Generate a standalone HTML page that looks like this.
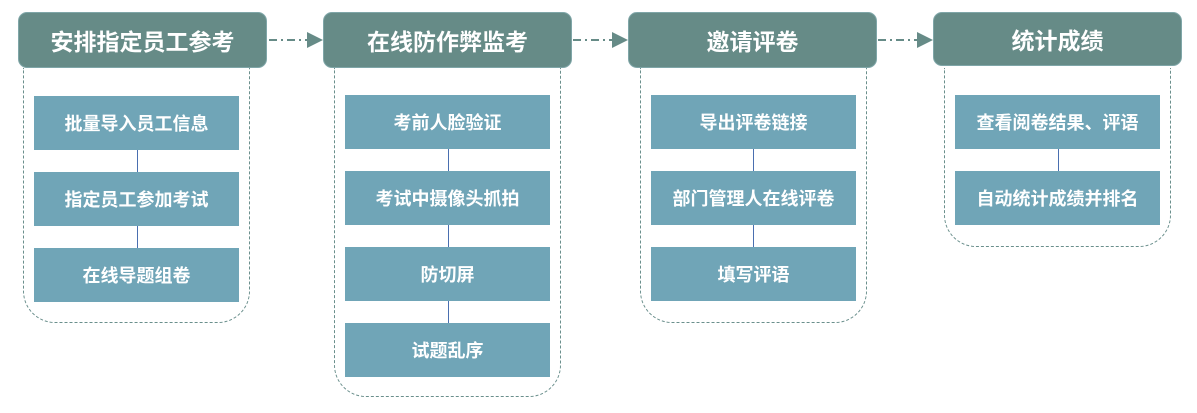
<!DOCTYPE html>
<html><head><meta charset="utf-8"><style>
body{margin:0;width:1197px;height:413px;background:#fff;position:relative;overflow:hidden;font-family:"Liberation Sans","Noto Sans CJK SC",sans-serif}
.h{position:absolute;top:12px;height:56px;width:249px;background:#668b87;border-radius:9px;color:#fff;font-size:23px;font-weight:bold;display:flex;align-items:center;justify-content:center;box-sizing:border-box;border:1px solid #7fa6a8}
.c{position:absolute;top:68px;width:227px;border:1.3px dashed #6a8f8c;border-top:none;border-radius:0 0 32px 32px;box-sizing:border-box}
.b{position:absolute;width:205px;height:54px;background:#70a5b7;color:#fff;font-size:18px;font-weight:bold;display:flex;align-items:center;justify-content:center}
.l{position:absolute;width:1px;background:#4a6fb0;height:22px}
</style></head><body>
<svg width="1197" height="413" style="position:absolute;left:0;top:0">
<defs><marker id="a" markerWidth="8" markerHeight="8" refX="7" refY="4" orient="auto"><path d="M0,0L8,4L0,8z" fill="#668b87"/></marker></defs>
<g stroke="#668b87" stroke-width="2" stroke-dasharray="8,4,2,4" marker-end="url(#a)">
<line x1="269" y1="40" x2="321" y2="40"/><line x1="573" y1="40" x2="626" y2="40"/><line x1="878" y1="40" x2="931" y2="40"/>
</g></svg>
<div class="c" style="left:23px;height:255px"></div>
<div class="c" style="left:334px;height:329px"></div>
<div class="c" style="left:640px;height:255px"></div>
<div class="c" style="left:944px;height:179px"></div>
<div class="h" style="left:18px">安排指定员工参考</div>
<div class="h" style="left:323px">在线防作弊监考</div>
<div class="h" style="left:628px">邀请评卷</div>
<div class="h" style="left:933px;height:54px">统计成绩</div>
<div class="b" style="left:34px;top:96px">批量导入员工信息</div>
<div class="l" style="left:137px;top:150px"></div>
<div class="b" style="left:34px;top:172px">指定员工参加考试</div>
<div class="l" style="left:137px;top:226px"></div>
<div class="b" style="left:34px;top:248px">在线导题组卷</div>
<div class="b" style="left:345px;top:95px">考前人脸验证</div>
<div class="l" style="left:448px;top:149px"></div>
<div class="b" style="left:345px;top:171px">考试中摄像头抓拍</div>
<div class="l" style="left:448px;top:225px"></div>
<div class="b" style="left:345px;top:247px">防切屏</div>
<div class="l" style="left:448px;top:301px"></div>
<div class="b" style="left:345px;top:323px">试题乱序</div>
<div class="b" style="left:651px;top:95px">导出评卷链接</div>
<div class="l" style="left:753px;top:149px"></div>
<div class="b" style="left:651px;top:171px">部门管理人在线评卷</div>
<div class="l" style="left:753px;top:225px"></div>
<div class="b" style="left:651px;top:247px">填写评语</div>
<div class="b" style="left:955px;top:95px">查看阅卷结果、评语</div>
<div class="l" style="left:1058px;top:149px"></div>
<div class="b" style="left:955px;top:171px">自动统计成绩并排名</div>
</body></html>
